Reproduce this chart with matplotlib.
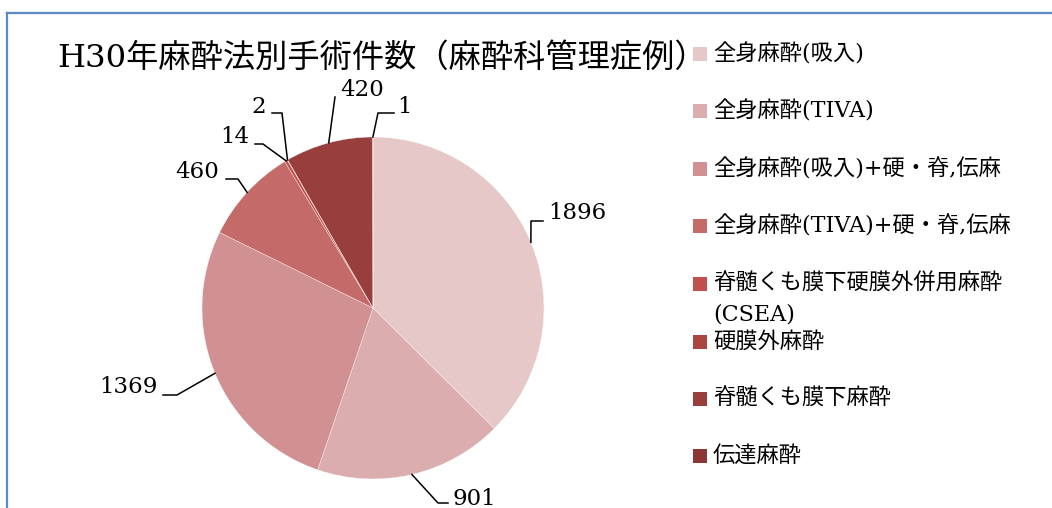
import matplotlib
matplotlib.use("Agg")
import matplotlib.pyplot as plt
from matplotlib.patches import Rectangle
from matplotlib.lines import Line2D
import numpy as np

W, H = 1052, 508
FONT = ["DejaVu Serif", "Noto Sans CJK JP"]
plt.rcParams["font.family"] = FONT

# ── data ──────────────────────────────────────────────────────────────────────
title = "H30年麻酔法別手術件数（麻酔科管理症例）"
methods = [
    "全身麻酔(吸入)",
    "全身麻酔(TIVA)",
    "全身麻酔(吸入)+硬・脊,伝麻",
    "全身麻酔(TIVA)+硬・脊,伝麻",
    "脊髄くも膜下硬膜外併用麻酔\n(CSEA)",
    "硬膜外麻酔",
    "脊髄くも膜下麻酔",
    "伝達麻酔",
]
counts = [1896, 901, 1369, 460, 14, 2, 420, 1]
colors = ["#E6C8C9", "#DCADAF", "#D19192", "#C46A68",
          "#C0504D", "#AA4542", "#983E3C", "#8B3634"]

# ── layout (pixels) ───────────────────────────────────────────────────────────
CX, CY, R = 373, 308, 171
# leader elbow points after the wedge anchor, text position, alignment
label_layout = [
    ([(531, 221), (543, 221)], (548, 213), "left"),
    ([(438, 503), (448, 503)], (452, 499), "left"),
    ([(177, 395), (163, 395)], (158, 387), "right"),
    ([(238, 179), (226, 179)], (219, 172), "right"),
    ([(263, 144), (255, 144)], (249, 137), "right"),
    ([(282, 113), (272, 113)], (266, 107), "right"),
    ([(335, 97)], (340, 90), "left"),
    ([(378, 113), (394, 113)], (397, 107), "left"),
]
legend_y = [54, 111, 169, 226, 284, 342, 399, 456]


def to_data(px, py):
    return (px - CX) / R, (CY - py) / R


def fx(px):
    return px / W


def fy(py):
    return 1 - py / H


fig = plt.figure(figsize=(W / 100, H / 100), dpi=100)
fig.patch.set_facecolor("white")

ax = fig.add_axes([(CX - R) / W, (H - CY - R) / H, 2 * R / W, 2 * R / H])
wedges, _ = ax.pie(counts, colors=colors, startangle=90, counterclock=False,
                   radius=1, wedgeprops=dict(edgecolor="white", linewidth=0.25))
ax.set_xlim(-1, 1)
ax.set_ylim(-1, 1)
ax.set_aspect("equal")
ax.axis("off")

# data labels with leader lines
for w, n, (elbows, (tx, ty), ha) in zip(wedges, counts, label_layout):
    th = np.deg2rad((w.theta1 + w.theta2) / 2)
    pts = [(np.cos(th), np.sin(th))] + [to_data(*p) for p in elbows]
    xs, ys = zip(*pts)
    ax.add_line(Line2D(xs, ys, color="black", lw=1.1, clip_on=False))
    ax.text(*to_data(tx, ty), str(n), ha=ha, va="center", fontsize=16.5,
            color="black", clip_on=False)

# title
fig.text(fx(57), fy(58), title, fontsize=23.2, va="center", ha="left", color="black")

# legend
for name, c, y in zip(methods, colors, legend_y):
    fig.add_artist(Rectangle((fx(693), fy(y + 7)), 14 / W, 14 / H,
                             transform=fig.transFigure, facecolor=c, edgecolor="none"))
    for i, line in enumerate(name.split("\n")):
        fig.text(fx(713), fy(y + i * 31), line, fontsize=16, va="center",
                 ha="left", color="black")

# chart border (top and left visible)
fig.add_artist(Line2D([fx(7), fx(1052)], [fy(13), fy(13)], transform=fig.transFigure,
                      color="#5A8AC6", lw=1.6))
fig.add_artist(Line2D([fx(7), fx(7)], [fy(13), fy(508)], transform=fig.transFigure,
                      color="#5A8AC6", lw=1.6))

fig.savefig("out.png", dpi=100, facecolor="white")
